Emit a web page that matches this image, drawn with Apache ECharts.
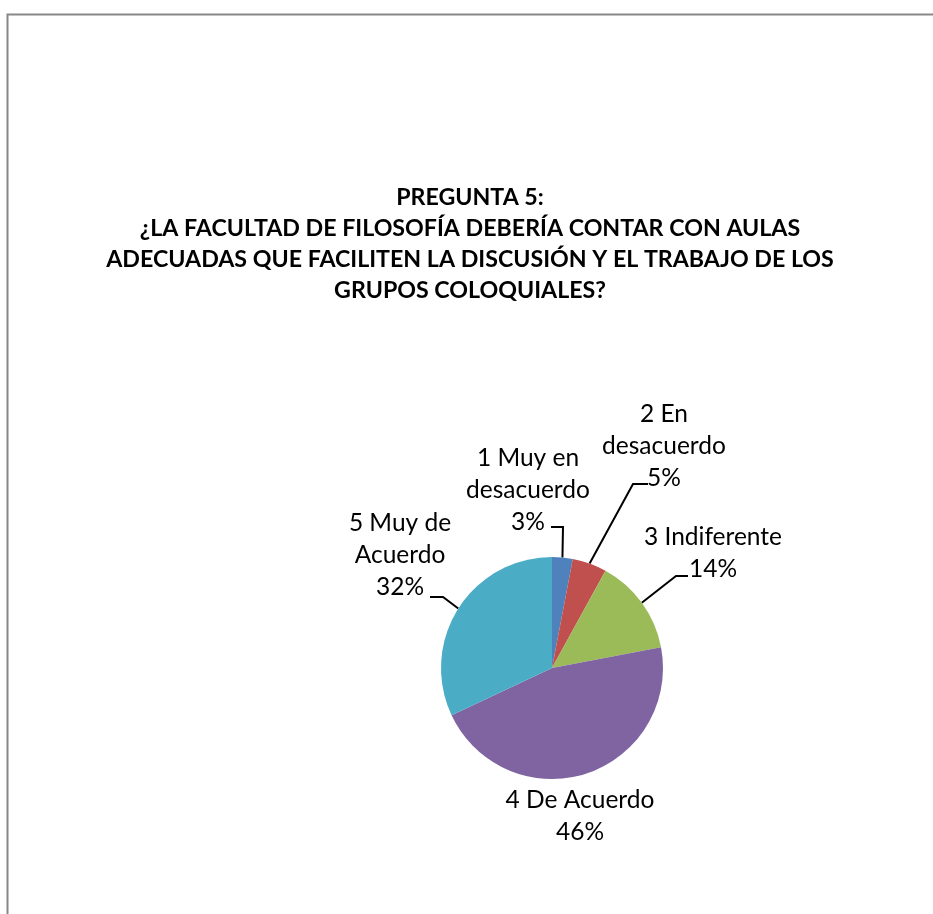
<!DOCTYPE html>
<html>
<head>
<meta charset="utf-8">
<script src="https://cdn.jsdelivr.net/npm/echarts@6/dist/echarts.min.js"></script>
<style>
html,body{margin:0;padding:0;background:#fff;}
#chart{width:933px;height:914px;}
</style>
</head>
<body>
<div id="chart"></div>
<script>
// ---- data ----
const categories = ["1 Muy en\ndesacuerdo", "2 En\ndesacuerdo", "3 Indiferente", "4 De Acuerdo", "5 Muy de\nAcuerdo"];
const values = [3, 5, 14, 46, 32];
const colors = ["#4F81BD", "#C0504D", "#9BBB59", "#8064A2", "#4BACC6"];
const titleText = "PREGUNTA 5:\n¿LA FACULTAD DE FILOSOFÍA DEBERÍA CONTAR CON AULAS\nADECUADAS QUE FACILITEN LA DISCUSIÓN Y EL TRABAJO DE LOS\nGRUPOS COLOQUIALES?";

// ---- label layout (annotation positions) ----
const labelPos = [
  {x: 528, y: 490, knee: [563, 527], end: [551, 527]},
  {x: 664, y: 446, knee: [633, 484], end: [648, 484]},
  {x: 713, y: 553, knee: [676, 576], end: [688, 576]},
  {x: 580, y: 816, knee: null, end: null},
  {x: 400, y: 555, knee: [443, 597], end: [430, 597]}
];

const FONT = "Lato, 'Open Sans', sans-serif";
const chart = echarts.init(document.getElementById('chart'), null, {renderer: 'canvas'});
chart.setOption({
  backgroundColor: '#fff',
  animation: false,
  graphic: [{
    type: 'rect', left: 5, top: 12,
    shape: {width: 1000, height: 1000},
    style: {fill: 'none', stroke: '#878787', lineWidth: 2}
  }],
  title: {
    text: titleText,
    left: 465, top: 177, textAlign: 'center',
    textStyle: {fontFamily: FONT, fontWeight: 'bold', fontSize: 23.2, lineHeight: 31, color: '#000'}
  },
  series: [{
    type: 'pie',
    center: [552, 668],
    radius: 111,
    startAngle: 90,
    clockwise: true,
    data: categories.map((c, i) => ({name: c, value: values[i], itemStyle: {color: colors[i]},
      labelLine: {show: i !== 3}})),
    itemStyle: {borderWidth: 0},
    label: {
      show: true,
      formatter: '{b}\n{d}%',
      fontFamily: FONT, fontSize: 24.5, lineHeight: 32, color: '#000', align: 'center'
    },
    labelLine: {show: true, lineStyle: {color: '#000', width: 2}},
    labelLayout: function (p) {
      const L = labelPos[p.dataIndex];
      const out = {x: L.x, y: L.y, align: 'center', verticalAlign: 'middle'};
      if (L.knee && p.labelLinePoints) {
        out.labelLinePoints = [p.labelLinePoints[0], L.knee, L.end];
      }
      return out;
    }
  }]
});
</script>
</body>
</html>
